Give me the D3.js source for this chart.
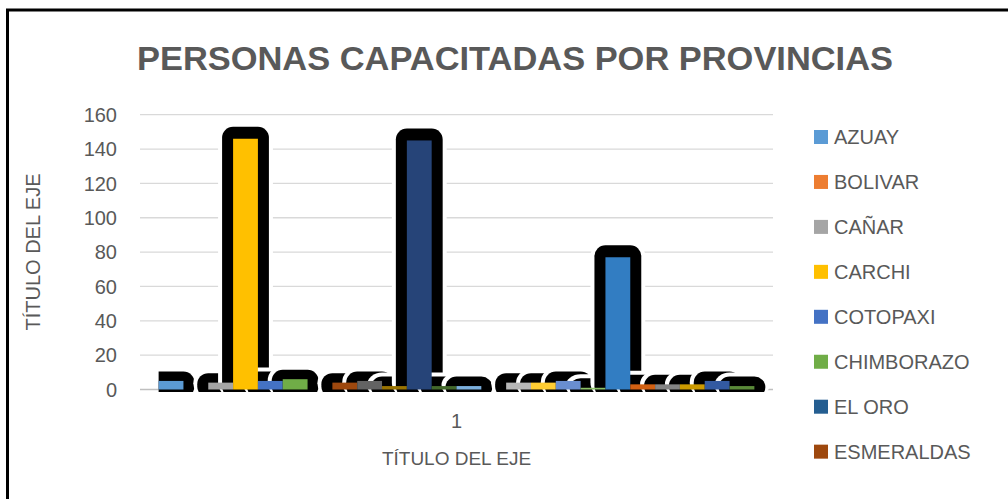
<!DOCTYPE html>
<html><head><meta charset="utf-8">
<script src="https://cdn.jsdelivr.net/npm/d3@7"></script>
<style>html,body{margin:0;padding:0;background:#fff;}svg{display:block;}</style>
</head><body>
<svg id="c" width="1008" height="499"></svg>
<script>
const categories = ["1"];
const provinces = ["AZUAY","BOLIVAR","CAÑAR","CARCHI","COTOPAXI","CHIMBORAZO","EL ORO","ESMERALDAS","GALAPAGOS","GUAYAS","IMBABURA","LOJA","LOS RIOS","MANABI","MORONA SANTIAGO","NAPO","ORELLANA","PASTAZA","PICHINCHA","SANTA ELENA","SANTO DOMINGO","SUCUMBIOS","TUNGURAHUA","ZAMORA CHINCHIPE"];
const values = [5,0,4,146,5,6,0,4,5,2,145,2,2,0,4,4,5,1,77,3,3,3,5,2];
const colors = ["#5B9BD5","#ED7D31","#A5A5A5","#FFC000","#4472C4","#70AD47","#255E91","#9E480E","#636363","#997300","#264478","#43682B","#7CAFDD","#F1975A","#B7B7B7","#FFCD33","#698ED0","#8CC168","#327DC2","#D26012","#848484","#CC9A00","#335AA1","#5A8A39"];
const yTicks = [0,20,40,60,80,100,120,140,160];
const legendShown = provinces.slice(0,8);

const svg = d3.select("#c");
const font = "'Liberation Sans', Arial, sans-serif";
const txt = "#595959";

// frame
svg.append("rect").attr("x",7.5).attr("y",10).attr("width",1100).attr("height",600)
  .attr("fill","none").attr("stroke","#000").attr("stroke-width",3);

const L = 140, R = 773, T = 114.7, B = 389.5;
const y = d3.scaleLinear().domain([0,160]).range([B,T]);
const gap = 1.5;
const x0 = d3.scaleBand().domain(categories).range([L,R]).paddingInner(0)
  .paddingOuter(gap/2/provinces.length);
const x1 = d3.scaleBand().domain(provinces).range([0,x0.bandwidth()]).padding(0);

// gridlines
svg.append("g").selectAll("line").data(yTicks).join("line")
  .attr("x1",L).attr("x2",R).attr("y1",d=>y(d)).attr("y2",d=>y(d))
  .attr("stroke",d=>d===0?"#BFBFBF":"#D9D9D9").attr("stroke-width",1.3);

// y tick labels
svg.append("g").selectAll("text").data(yTicks).join("text")
  .attr("x",117).attr("y",d=>y(d)).attr("dy","0.36em").attr("text-anchor","end")
  .attr("font-family",font).attr("font-size",20).attr("fill",txt).text(d=>d);

const data = provinces.map((p,i)=>({p, v:values[i], c:colors[i]}));
const clip = svg.append("defs").append("clipPath").attr("id","cl");
clip.append("rect").attr("x",0).attr("y",0).attr("width",1008).attr("height",B+2.5);

const g = svg.append("g").attr("transform",`translate(${x0(categories[0])},0)`);
const sh = g.append("g").attr("clip-path","url(#cl)");
data.filter(d=>d.v>0).forEach(d=>{
  const bx = x1(d.p), bw = x1.bandwidth(), top = y(d.v);
  const h = B - top;
  const ext = h > 30 ? 12 : 9.5;
  sh.append("rect").attr("x",bx-15).attr("y",top-ext-4).attr("width",bw+30).attr("height",h+ext+12)
    .attr("rx",15).attr("fill","#fff");
  sh.append("rect").attr("x",bx-11).attr("y",top-ext).attr("width",bw+22).attr("height",h+ext+8)
    .attr("rx",11).attr("fill","#000");
});
g.append("g").selectAll("rect").data(data).join("rect")
  .attr("x",d=>x1(d.p)).attr("width",x1.bandwidth())
  .attr("y",d=>y(d.v)).attr("height",d=>B-y(d.v)).attr("fill",d=>d.c);

// category label
svg.append("text").attr("x",x0(categories[0])+x0.bandwidth()/2).attr("y",428)
  .attr("text-anchor","middle").attr("font-family",font).attr("font-size",20).attr("fill",txt).text(categories[0]);

// axis titles
svg.append("text").attr("x",456.5).attr("y",465).attr("text-anchor","middle")
  .attr("font-family",font).attr("font-size",19).attr("fill",txt).text("TÍTULO DEL EJE");
svg.append("text").attr("transform","translate(40,252) rotate(-90)").attr("text-anchor","middle")
  .attr("font-family",font).attr("font-size",20).attr("fill",txt).text("TÍTULO DEL EJE");

// title
svg.append("text").attr("x",515).attr("y",70).attr("text-anchor","middle")
  .attr("font-family",font).attr("font-weight","bold").attr("font-size",34).attr("fill",txt)
  .attr("textLength",756).attr("lengthAdjust","spacingAndGlyphs")
  .text("PERSONAS CAPACITADAS POR PROVINCIAS");

// legend
const lg = svg.append("g").selectAll("g").data(legendShown).join("g")
  .attr("transform",(d,i)=>`translate(814,${137+i*44.95})`);
lg.append("rect").attr("x",0).attr("y",-7).attr("width",14).attr("height",14)
  .attr("fill",(d,i)=>colors[i]);
lg.append("text").attr("x",20).attr("y",0).attr("dy","0.36em")
  .attr("font-family",font).attr("font-size",20).attr("fill",txt).text(d=>d);
</script>
</body></html>
